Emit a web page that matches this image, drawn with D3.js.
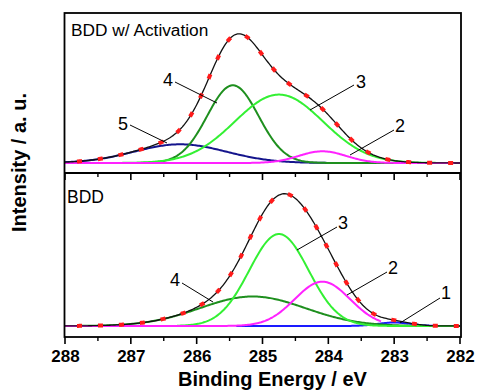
<!DOCTYPE html>
<html><head><meta charset="utf-8">
<script src="https://cdn.jsdelivr.net/npm/d3@7"></script>
<style>body{margin:0;background:#fff}svg{display:block}text{font-family:"Liberation Sans",Arial,sans-serif}</style>
</head><body><svg id="c" width="477" height="390"></svg>
<script>
// Binding energy axis
const xTicks = [288, 287, 286, 285, 284, 283, 282];
// Top panel (BDD w/ Activation): fitted peak components
const topLabels = ["5", "4", "3", "2"];
const topCenters = [286.25, 285.45, 284.75, 284.09];
const topHeights = [0.187, 0.777, 0.684, 0.117];
const topSigmas = [0.70, 0.39, 0.67, 0.36];
const topColors = ["#14148c", "#1e8f1e", "#33f033", "#ff22ff"];
// Bottom panel (BDD): fitted peak components
const botLabels = ["1", "4", "3", "2"];
const botCenters = [283.0, 285.15, 284.75, 284.09];
const botHeights = [0.035, 0.295, 0.92, 0.443];
const botSigmas = [0.25, 0.80, 0.45, 0.42];
const botColors = ["#1a1aff", "#1e8f1e", "#33f033", "#ff22ff"];
const botRanges = [[285.4, 282], [288, 282], [286.3, 282], [288, 283.2]];

const svg = d3.select("#c");
const x = d3.scaleLinear().domain([288, 282]).range([65, 460]);
const yTop = d3.scaleLinear().domain([-0.1, 1.5]).range([173, 13]);
const yBot = d3.scaleLinear().domain([-0.11, 1.53]).range([337, 173]);

const gauss = (e, c, h, s) => h * Math.exp(-((e - c) ** 2) / (2 * s * s));
const grid = d3.range(288, 281.995, -0.02);

function drawPanel(y, centers, heights, sigmas, colors, ranges) {
  const line = d3.line().x(d => x(d[0])).y(d => y(d[1]));
  centers.forEach((c, i) => {
    const r = ranges ? ranges[i] : [288, 282];
    const pts = grid.filter(e => e <= r[0] + 1e-9 && e >= r[1] - 1e-9).map(e => [e, gauss(e, c, heights[i], sigmas[i])]);
    svg.append("path").attr("d", line(pts)).attr("fill", "none")
      .attr("stroke", colors[i]).attr("stroke-width", 2);
  });
  const env = grid.map(e => [e, d3.sum(centers, (c, i) => gauss(e, c, heights[i], sigmas[i]))]);
  svg.append("path").attr("d", line(env)).attr("fill", "none").attr("stroke", "#111").attr("stroke-width", 1.3);
  svg.append("path").attr("d", line(env)).attr("fill", "none").attr("stroke", "#ff1a1a")
    .attr("stroke-width", 4).attr("stroke-dasharray", "5,16").attr("stroke-dashoffset", -12);
}
drawPanel(yTop, topCenters, topHeights, topSigmas, topColors, null);
drawPanel(yBot, botCenters, botHeights, botSigmas, botColors, botRanges);

// frames
svg.append("rect").attr("x", 64.5).attr("y", 13).attr("width", 396.5).attr("height", 324)
  .attr("fill", "none").attr("stroke", "#000").attr("stroke-width", 1.8);
svg.append("line").attr("x1", 64.5).attr("x2", 461).attr("y1", 173).attr("y2", 173)
  .attr("stroke", "#000").attr("stroke-width", 1.8);

// axes (ticks outward/down)
const minor = d3.range(287.5, 282, -1);
[173, 337].forEach(yy => {
  const g = svg.append("g");
  xTicks.forEach(t => g.append("line").attr("x1", x(t)).attr("x2", x(t)).attr("y1", yy).attr("y2", yy + 7).attr("stroke", "#000").attr("stroke-width", 1.6));
  minor.forEach(t => g.append("line").attr("x1", x(t)).attr("x2", x(t)).attr("y1", yy).attr("y2", yy + 4).attr("stroke", "#000").attr("stroke-width", 1.4));
});
const xAxis = d3.axisBottom(x).tickValues(xTicks).tickSize(0).tickPadding(0).tickFormat(d3.format("d"));
const ax = svg.append("g").attr("transform", "translate(0,337)").call(xAxis);
ax.select(".domain").remove();
ax.selectAll("text").attr("y", 25).attr("dy", 0).attr("font-size", 17).attr("font-weight", "bold")
  .attr("fill", "#000").style("font-family", '"Liberation Sans",Arial,sans-serif');

svg.append("text").attr("x", 272.5).attr("y", 386).attr("text-anchor", "middle")
  .attr("font-size", 20).attr("font-weight", "bold").text("Binding Energy / eV");
svg.append("text").attr("transform", "translate(26,162.5) rotate(-90)").attr("text-anchor", "middle")
  .attr("font-size", 20).attr("font-weight", "bold").text("Intensity / a. u.");

svg.append("text").attr("x", 71).attr("y", 36).attr("font-size", 17.3).text("BDD w/ Activation");
svg.append("text").attr("x", 67).attr("y", 203).attr("font-size", 17.5).text("BDD");

// peak labels with leader lines
const topAnn = [
  {t: "5", tx: 123, ty: 130, x1: 130, y1: 125, x2: 167, y2: 143},
  {t: "4", tx: 168, ty: 86, x1: 175, y1: 82, x2: 217, y2: 103},
  {t: "3", tx: 361, ty: 88, x1: 354, y1: 85, x2: 310, y2: 110},
  {t: "2", tx: 400, ty: 132, x1: 394, y1: 130, x2: 350, y2: 155}
];
const botAnn = [
  {t: "4", tx: 175, ty: 286, x1: 182, y1: 283, x2: 213, y2: 302},
  {t: "3", tx: 343, ty: 229, x1: 337, y1: 227, x2: 297, y2: 250},
  {t: "2", tx: 393, ty: 274, x1: 387, y1: 272, x2: 347, y2: 295},
  {t: "1", tx: 446, ty: 299, x1: 440, y1: 298, x2: 400, y2: 323}
];
topAnn.concat(botAnn).forEach(a => {
  svg.append("line").attr("x1", a.x1).attr("y1", a.y1).attr("x2", a.x2).attr("y2", a.y2)
    .attr("stroke", "#000").attr("stroke-width", 1);
  svg.append("text").attr("x", a.tx).attr("y", a.ty).attr("text-anchor", "middle")
    .attr("font-size", 18).text(a.t);
});
</script></body></html>
